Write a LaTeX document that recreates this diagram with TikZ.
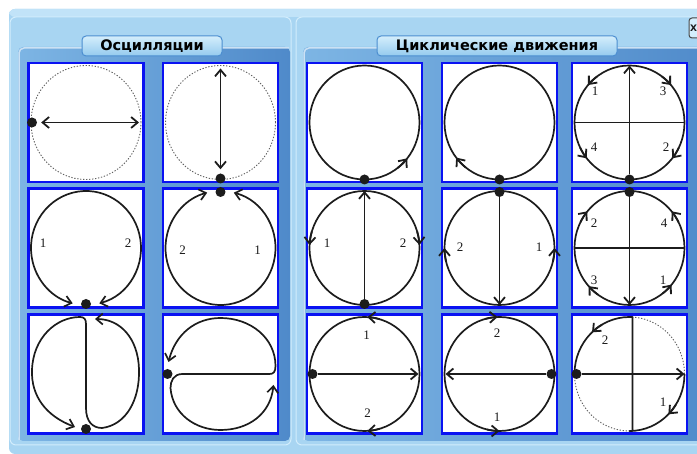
\documentclass[tikz,border=0pt]{standalone}
\usepackage{fontspec}
\newfontfamily\tabfont{DejaVu Sans}
\newfontfamily\digfont{Liberation Serif}
\usetikzlibrary{arrows.meta}
\definecolor{winblue}{HTML}{A8D5F2}
\definecolor{edgeblue}{HTML}{D2EDFC}
\definecolor{panlight}{HTML}{7DB5E4}
\definecolor{pandark}{HTML}{4F8ACA}
\definecolor{cellblue}{HTML}{0A12F2}
\definecolor{tabtop}{HTML}{D4EEFC}
\definecolor{tabbot}{HTML}{94CAEE}
\definecolor{tabline}{HTML}{4C8ED0}
\definecolor{ink}{HTML}{1C1C1C}
% short arrowed piece of the orbit
\newcommand{\orbarr}[2]{\draw[arr,->] (#1:55 and 57)
  arc[start angle=#1, end angle=#2, x radius=55, y radius=57];}

\begin{document}
\begin{tikzpicture}[x=1pt, y=1pt,
    >={Straight Barb[length=6.5pt, width=11pt]},
    cell/.style={draw=cellblue, line width=2.6pt, fill=white,
      minimum width=115pt, minimum height=119pt, inner sep=0pt},
    orb/.style={draw=ink, line width=1.7pt, line join=round},
    dorb/.style={draw=ink!70, line width=0.9pt,
      dash pattern=on 1.3pt off 1.7pt},
    arr/.style={draw=ink, line width=1.8pt},
    bead/.style={circle, fill=ink, inner sep=0pt, minimum size=10pt},
    num/.style={font=\digfont\fontsize{13}{13}\selectfont, text=ink,
      inner sep=0pt},
    tab/.style={rectangle, rounded corners=4pt, draw=tabline,
      line width=1pt, top color=tabtop, bottom color=tabbot,
      minimum height=20pt, inner sep=0pt,
      font=\tabfont\bfseries\fontsize{14.5}{15}\selectfont}
  ]
  \useasboundingbox (0,0) rectangle (697,454);
  \fill[white] (0,0) rectangle (697,454);
  % === Window and panels ===
  \fill[winblue, rounded corners=6pt] (9,0) rectangle (720,445);
  \fill[edgeblue!60!winblue, rounded corners=6pt] (9,437) rectangle (720,445);
  \draw[edgeblue, line width=1pt, fill=winblue, rounded corners=6pt]
  (10,9) rectangle (291,437);
  \draw[edgeblue, line width=1pt, fill=winblue, rounded corners=6pt]
  (296,9) rectangle (720,437);
  \shade[left color=panlight, right color=pandark, rounded corners=5pt]
  (18,13) rectangle (290,407);
  \shade[left color=panlight, right color=pandark, rounded corners=5pt]
  (303,13) rectangle (720,407);
  \draw[white!60!panlight, line width=1.5pt, rounded corners=5pt]
  (19,14) -- (19,406) -- (289,406);
  \draw[white!60!panlight, line width=1.5pt, rounded corners=5pt]
  (304,14) -- (304,406) -- (720,406);
  % titles
  \node[tab, minimum width=140pt] (osctab) at (152,408) {Осцилляции};
  \node[tab, minimum width=240pt] (cyctab) at (497,408)
  {Циклические движения};
  \node[draw=ink!80, rounded corners=3pt, fill=tabtop, line width=1pt,
    minimum width=16pt, minimum height=20pt, inner sep=0pt,
  font=\tabfont\bfseries\fontsize{9}{9}\selectfont] (closebtn)
  at (697,426) {};
  \node[font=\tabfont\bfseries\fontsize{9}{9}\selectfont, text=ink,
  inner sep=0pt, anchor=west] (closex) at (690,426) {X};
  % === Cells ===
  \node[cell] (osc11) at (86,331.5) {};
  \node[cell] (osc12) at (220.5,331.5) {};
  \node[cell] (osc21) at (86,206) {};
  \node[cell] (osc22) at (220.5,206) {};
  \node[cell] (osc31) at (86,80) {};
  \node[cell] (osc32) at (220.5,80) {};
  \node[cell] (cyc11) at (364.5,331.5) {};
  \node[cell] (cyc12) at (499.5,331.5) {};
  \node[cell] (cyc13) at (629.5,331.5) {};
  \node[cell] (cyc21) at (364.5,206) {};
  \node[cell] (cyc22) at (499.5,206) {};
  \node[cell] (cyc23) at (629.5,206) {};
  \node[cell] (cyc31) at (364.5,80) {};
  \node[cell] (cyc32) at (499.5,80) {};
  \node[cell] (cyc33) at (629.5,80) {};
  % === Oscillations ===
  \begin{scope}[shift={(osc11.center)}]
    \draw[dorb] (0,0) ellipse[x radius=55, y radius=57];
    \node[bead] (pA) at (-54,0) {};
    \coordinate (qA) at (53,0);
    \draw[arr, <->, shorten <=4pt] (pA) -- (qA);
  \end{scope}
  \begin{scope}[shift={(osc12.center)}]
    \draw[dorb] (0,0) ellipse[x radius=55, y radius=57];
    \node[bead] (pB) at (0,-56) {};
    \coordinate (qB) at (0,54);
    \draw[arr, <->, shorten <=4pt] (pB) -- (qB);
  \end{scope}
  \begin{scope}[shift={(osc21.center)}]
    \draw[orb, <->] (-76:55 and 57)
    arc[start angle=-76, end angle=256, x radius=55, y radius=57];
    \node[bead] (pC) at (0,-56) {};
    \node[num] (nC1) at (-43,5) {1};
    \node[num] (nC2) at (42,5) {2};
  \end{scope}
  \begin{scope}[shift={(osc22.center)}]
    \draw[orb, <->] (76:55 and 57)
    arc[start angle=76, end angle=-256, x radius=55, y radius=57];
    \node[bead] (pD) at (0,56) {};
    \node[num] (nD2) at (-38,-2) {2};
    \node[num] (nD1) at (37,-2) {1};
  \end{scope}
  \begin{scope}[shift={(osc31.center)}]
    \draw[orb, <->] (-11,-53) .. controls (-40,-42) and (-55,-22) .. (-54,4)
    .. controls (-53,36) and (-30,57) .. (-6,57)
    .. controls (-2,57) and (0,55) .. (0,50) -- (0,-34)
    .. controls (0,-48) and (7,-54) .. (16,-54)
    .. controls (40,-51) and (54,-26) .. (53,5)
    .. controls (52,36) and (34,55) .. (9,55);
    \node[bead] (pE) at (0,-55) {};
  \end{scope}
  \begin{scope}[shift={(osc32.center)}]
    \draw[orb, <->] (-52,12) .. controls (-45,40) and (-25,56) .. (0,56)
    .. controls (30,56) and (55,36) .. (55,8)
    .. controls (55,2) and (53,0) .. (49,0) -- (-38,0)
    .. controls (-47,0) and (-50,-7) .. (-50,-14)
    .. controls (-48,-40) and (-25,-56) .. (0,-56)
    .. controls (28,-56) and (50,-40) .. (53,-11);
    \node[bead] (pF) at (-53,0) {};
  \end{scope}
  % === Cyclic movements: row 1 ===
  \begin{scope}[shift={(cyc11.center)}]
    \draw[orb] (0,0) ellipse[x radius=55, y radius=57];
    \orbarr{-53}{-39}
    \node[bead] (pG) at (0,-57) {};
  \end{scope}
  \begin{scope}[shift={(cyc12.center)}]
    \draw[orb] (0,0) ellipse[x radius=55, y radius=57];
    \orbarr{232}{218}
    \node[bead] (pH) at (0,-57) {};
  \end{scope}
  \begin{scope}[shift={(cyc13.center)}]
    \draw[orb] (0,0) ellipse[x radius=55, y radius=57];
    \draw[arr] (-55,0) -- (55,0);
    \node[bead] (pI) at (0,-57) {};
    \coordinate (qI) at (0,57);
    \draw[arr, ->] (pI) -- (qI);
    \orbarr{126}{139} \orbarr{54}{41}
    \orbarr{206}{219} \orbarr{-26}{-39}
    \node[num] (nI1) at (-34.5,31.5) {1};
    \node[num] (nI3) at (33.5,31.5) {3};
    \node[num] (nI4) at (-35.5,-24.5) {4};
    \node[num] (nI2) at (36.5,-24.5) {2};
  \end{scope}
  % === Cyclic movements: row 2 ===
  \begin{scope}[shift={(cyc21.center)}]
    \draw[orb] (0,0) ellipse[x radius=55, y radius=57];
    \node[bead] (pJ) at (0,-56) {};
    \coordinate (qJ) at (0,57);
    \draw[arr, ->] (pJ) -- (qJ);
    \orbarr{163}{177} \orbarr{17}{3}
    \node[num] (nJ1) at (-37.5,5) {1};
    \node[num] (nJ2) at (38.5,5) {2};
  \end{scope}
  \begin{scope}[shift={(cyc22.center)}]
    \draw[orb] (0,0) ellipse[x radius=55, y radius=57];
    \node[bead] (pK) at (0,56) {};
    \coordinate (qK) at (0,-57);
    \draw[arr, ->] (pK) -- (qK);
    \orbarr{194}{180} \orbarr{-14}{0}
    \node[num] (nK2) at (-39.5,1) {2};
    \node[num] (nK1) at (39.5,1) {1};
  \end{scope}
  \begin{scope}[shift={(cyc23.center)}]
    \draw[orb] (0,0) ellipse[x radius=55, y radius=57];
    \draw[arr] (-55,0) -- (55,0);
    \node[bead] (pL) at (0,56) {};
    \coordinate (qL) at (0,-57);
    \draw[arr, ->] (pL) -- (qL);
    \orbarr{153}{140} \orbarr{27}{40}
    \orbarr{235}{222} \orbarr{-53}{-40}
    \node[num] (nL2) at (-35.5,25) {2};
    \node[num] (nL4) at (34.5,25) {4};
    \node[num] (nL3) at (-35.5,-32) {3};
    \node[num] (nL1) at (33.5,-32) {1};
  \end{scope}
  % === Cyclic movements: row 3 ===
  \begin{scope}[shift={(cyc31.center)}]
    \draw[orb] (0,0) ellipse[x radius=55, y radius=57];
    \node[bead] (pM) at (-52,0) {};
    \coordinate (qM) at (54,0);
    \draw[arr, ->] (pM) -- (qM);
    \orbarr{74}{87} \orbarr{286}{273}
    \node[num] (nM1) at (2,39) {1};
    \node[num] (nM2) at (3,-39) {2};
  \end{scope}
  \begin{scope}[shift={(cyc32.center)}]
    \draw[orb] (0,0) ellipse[x radius=55, y radius=57];
    \node[bead] (pN) at (52,0) {};
    \coordinate (qN) at (-54,0);
    \draw[arr, ->] (pN) -- (qN);
    \orbarr{105}{92} \orbarr{257}{270}
    \node[num] (nN2) at (-2.5,41) {2};
    \node[num] (nN1) at (-2.5,-43) {1};
  \end{scope}
  \begin{scope}[shift={(cyc33.center)}]
    \draw[dorb] (55,0) arc[start angle=0, end angle=90, x radius=55, y radius=57];
    \draw[dorb] (-55,0) arc[start angle=180, end angle=270, x radius=55, y radius=57];
    \draw[orb] (-55,0) arc[start angle=180, end angle=90, x radius=55, y radius=57]
    -- (3,57) -- (3,-57) -- (0,-57)
    arc[start angle=270, end angle=360, x radius=55, y radius=57];
    \node[bead] (pO) at (-53,0) {};
    \coordinate (qO) at (55,0);
    \draw[arr, ->] (pO) -- (qO);
    \orbarr{120}{133} \orbarr{-32}{-45}
    \node[num] (nO2) at (-24.5,34) {2};
    \node[num] (nO1) at (33.5,-28) {1};
  \end{scope}
\end{tikzpicture}
\end{document}
